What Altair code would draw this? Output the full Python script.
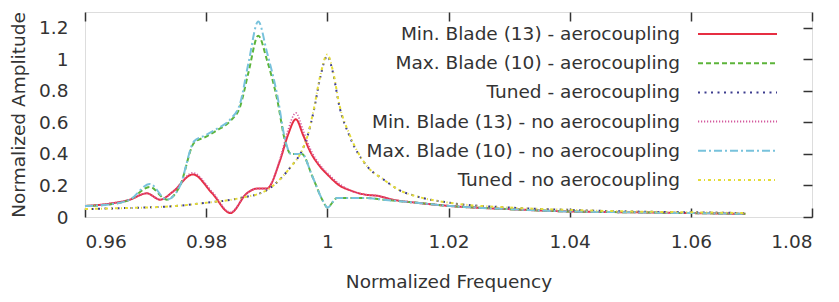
import altair as alt
import pandas as pd

# ---------------- data ----------------
names = [
    "Min. Blade (13) - aerocoupling",
    "Max. Blade (10) - aerocoupling",
    "Tuned - aerocoupling",
    "Min. Blade (13) - no aerocoupling",
    "Max. Blade (10) - no aerocoupling",
    "Tuned - no aerocoupling",
]
colors = ["#e62e42", "#5cb43a", "#3c3c8e", "#d45a9e", "#78c2dc", "#e4dc38"]
dashes = [[1, 0], [5, 3], [2, 4.5], [1.2, 1.8], [8, 3, 2, 3], [3, 3, 1, 3]]
widths = [2, 2, 2, 1.6, 2, 2]

min_f = [0.960, 0.9641, 0.9674, 0.9702, 0.9724, 0.9745, 0.9778, 0.9810, 0.9840, 0.9867,
         0.9884, 0.9900, 0.9922, 0.9935, 0.9948, 0.9960, 0.9971, 0.9988, 1.0000, 1.0020,
         1.0037, 1.0066, 1.0082, 1.0108, 1.0148, 1.0202, 1.0300, 1.0400, 1.0500, 1.0600, 1.0690]
min_aero = [0.07, 0.085, 0.11, 0.15, 0.11, 0.16, 0.27, 0.15, 0.025, 0.15,
            0.18, 0.18, 0.36, 0.52, 0.62, 0.52, 0.42, 0.32, 0.27, 0.20,
            0.17, 0.14, 0.135, 0.11, 0.09, 0.07, 0.05, 0.035, 0.03, 0.025, 0.02]
min_noaero = [0.07, 0.085, 0.11, 0.15, 0.11, 0.16, 0.28, 0.16, 0.03, 0.15,
              0.18, 0.18, 0.37, 0.55, 0.66, 0.55, 0.44, 0.33, 0.28, 0.21,
              0.17, 0.14, 0.135, 0.11, 0.09, 0.07, 0.05, 0.035, 0.03, 0.025, 0.02]

max_f = [0.960, 0.9641, 0.9674, 0.9707, 0.9735, 0.9757, 0.9780, 0.9800, 0.9818, 0.9840,
         0.9856, 0.9870, 0.9886, 0.9900, 0.9917, 0.9931, 0.9940, 0.9958, 0.9975, 0.9993,
         1.0000, 1.0016, 1.0040, 1.0066, 1.0092, 1.0148, 1.0202, 1.0300, 1.0400, 1.0500,
         1.0600, 1.0690]
max_aero = [0.07, 0.08, 0.11, 0.19, 0.11, 0.20, 0.47, 0.51, 0.55, 0.61,
            0.70, 0.92, 1.15, 1.00, 0.75, 0.47, 0.40, 0.40, 0.26, 0.10,
            0.06, 0.12, 0.12, 0.12, 0.11, 0.09, 0.07, 0.05, 0.035, 0.03,
            0.025, 0.02]
max_noaero = [0.07, 0.08, 0.11, 0.21, 0.11, 0.20, 0.48, 0.52, 0.56, 0.62,
              0.72, 0.98, 1.24, 1.05, 0.78, 0.48, 0.40, 0.40, 0.26, 0.10,
              0.06, 0.12, 0.12, 0.12, 0.11, 0.09, 0.07, 0.05, 0.035, 0.03,
              0.025, 0.02]

tun_f = [0.960, 0.965, 0.970, 0.975, 0.980, 0.9856, 0.9900, 0.9922, 0.9940, 0.9958,
         0.9967, 0.9978, 0.9988, 1.0000, 1.0009, 1.0020, 1.0037, 1.0066, 1.0092, 1.0119,
         1.0148, 1.0202, 1.0300, 1.0400, 1.0500, 1.0600, 1.0690]
tun_aero = [0.05, 0.055, 0.06, 0.07, 0.09, 0.12, 0.17, 0.24, 0.32, 0.42,
            0.51, 0.68, 0.88, 1.02, 0.92, 0.70, 0.51, 0.32, 0.24, 0.17,
            0.13, 0.09, 0.06, 0.045, 0.035, 0.03, 0.025]
tun_noaero = [0.05, 0.055, 0.06, 0.07, 0.09, 0.12, 0.17, 0.24, 0.32, 0.42,
              0.51, 0.69, 0.89, 1.03, 0.93, 0.71, 0.52, 0.32, 0.24, 0.17,
              0.13, 0.09, 0.06, 0.045, 0.035, 0.03, 0.025]

x_ticks = [0.96, 0.98, 1.0, 1.02, 1.04, 1.06, 1.08]
y_ticks = [0, 0.2, 0.4, 0.6, 0.8, 1.0, 1.2]

series_data = [
    (names[0], min_f, min_aero),
    (names[1], max_f, max_aero),
    (names[2], tun_f, tun_aero),
    (names[3], min_f, min_noaero),
    (names[4], max_f, max_noaero),
    (names[5], tun_f, tun_noaero),
]
rows = []
for s, fs, amps in series_data:
    for f, a in zip(fs, amps):
        rows.append({"series": s, "f": f, "a": a})
df = pd.DataFrame(rows)
legend_df = pd.DataFrame({"series": names})

# ---------------- style ----------------
FONT = "DejaVu Sans"
FS = 18.5
TXT = "#333333"
W, H = 727, 205

xscale = alt.Scale(domain=[0.96, 1.08], nice=False, zero=False)
yscale = alt.Scale(domain=[0, 1.3], nice=False, zero=False)
cscale = alt.Scale(domain=names, range=colors)
dscale = alt.Scale(domain=names, range=dashes)
lscale = alt.Scale(type="point", domain=names, range=[22, 168], padding=0)

main_x_axis = alt.Axis(orient="bottom", values=x_ticks, format="~g", ticks=False, domain=False,
                       grid=False, labelFont=FONT, labelFontSize=FS, labelColor=TXT,
                       labelPadding=15, title="Normalized Frequency", titleFont=FONT,
                       titleFontSize=FS, titleFontWeight="normal", titleColor=TXT,
                       titlePadding=22)
main_y_axis = alt.Axis(orient="left", values=y_ticks, format="~g", ticks=False, domain=False,
                       grid=False, labelFont=FONT, labelFontSize=FS, labelColor=TXT,
                       labelPadding=17, title="Normalized Amplitude", titleFont=FONT,
                       titleFontSize=FS, titleFontWeight="normal", titleColor=TXT,
                       titlePadding=10)

def tick_axis(orient, vals):
    return alt.Axis(orient=orient, values=vals, offset=-9, tickSize=9, tickWidth=1.5,
                    tickColor=TXT, labels=False, domain=False, grid=False, title="")

layers = []
for i, s in enumerate(names):
    layers.append(
        alt.Chart(df).transform_filter(alt.datum.series == s)
        .mark_line(strokeWidth=widths[i], interpolate="monotone")
        .encode(
            x=alt.X("f:Q", scale=xscale, axis=main_x_axis if i == 0 else None),
            y=alt.Y("a:Q", scale=yscale, axis=main_y_axis if i == 0 else None),
            color=alt.Color("series:N", scale=cscale, legend=None),
            strokeDash=alt.StrokeDash("series:N", scale=dscale, legend=None),
        )
    )

# inward ticks (top / right / bottom)
layers.append(
    alt.Chart(df).mark_line(opacity=0).encode(
        x=alt.X("f:Q", scale=xscale, axis=tick_axis("top", x_ticks)),
        y=alt.Y("a:Q", scale=yscale, axis=tick_axis("right", y_ticks)),
    )
)
layers.append(
    alt.Chart(df).mark_line(opacity=0).encode(
        x=alt.X("f:Q", scale=xscale, axis=tick_axis("bottom", x_ticks)),
        y=alt.Y("a:Q", scale=yscale, axis=None),
    )
)

# legend (text left, sample line right)
layers.append(
    alt.Chart(legend_df).mark_rule(strokeWidth=2).encode(
        x=alt.value(613), x2=alt.value(692),
        y=alt.Y("series:N", scale=lscale, axis=None),
        color=alt.Color("series:N", scale=cscale, legend=None),
        strokeDash=alt.StrokeDash("series:N", scale=dscale, legend=None),
    )
)
layers.append(
    alt.Chart(legend_df).mark_text(align="right", baseline="middle", font=FONT,
                                   fontSize=FS, color=TXT).encode(
        x=alt.value(595),
        y=alt.Y("series:N", scale=lscale, axis=None),
        text="series:N",
    )
)

chart = (
    alt.layer(*layers)
    .resolve_scale(y="independent")
    .resolve_axis(x="independent", y="independent")
    .properties(width=W, height=H, padding={"left": 77, "top": 4, "right": 19, "bottom": 77},
                autosize=alt.AutoSizeParams(type="none"))
    .configure_view(stroke=TXT, strokeWidth=1.5)
    .configure(background="white")
)

chart.save("out.html", embed_options={"renderer": "svg", "actions": False})
